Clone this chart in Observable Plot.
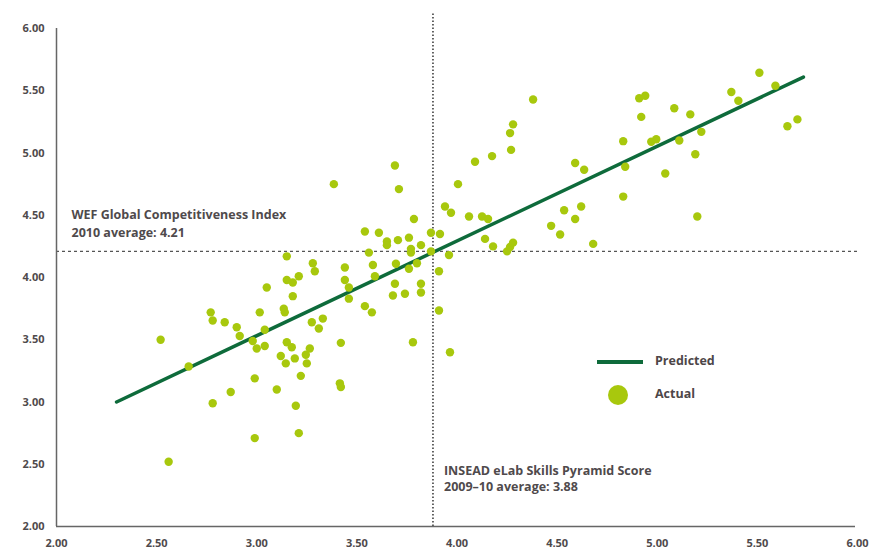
<!DOCTYPE html>
<html>
<head>
<meta charset="utf-8">
<script src="https://cdn.jsdelivr.net/npm/d3@7"></script>
<script src="https://cdn.jsdelivr.net/npm/@observablehq/plot@0.6"></script>
<style>
  html, body { margin: 0; padding: 0; background: #fff; }
  #wrap { position: relative; width: 873px; height: 550px; overflow: hidden; font-family: 'Open Sans', sans-serif; }
  #wrap svg { position: absolute; left: 0; top: 0; }
  .leg-line { position: absolute; left: 597px; top: 360px; width: 46px; height: 3.5px; background: #0e6b3b; }
  .leg-dot { position: absolute; left: 608px; top: 385px; width: 20px; height: 20px; border-radius: 50%; background: #a8c80d; }
  .leg-text { position: absolute; left: 655px; font-size: 12.5px; font-weight: 700; color: #4d4648; line-height: 1; }
</style>
</head>
<body>
<div id="wrap"></div>
<script>
// Data
const actualX = [2.52,2.56,2.66,2.77,2.78,2.78,2.84,2.87,2.90,2.915,2.98,2.99,2.99,3.00,3.015,3.04,3.04,3.05,3.10,3.12,3.135,3.14,3.145,3.15,3.15,3.15,3.175,3.18,3.18,3.19,3.195,3.21,3.21,3.22,3.245,3.25,3.265,3.275,3.28,3.29,3.31,3.33,3.385,3.415,3.42,3.42,3.44,3.44,3.46,3.46,3.54,3.54,3.56,3.575,3.58,3.59,3.61,3.65,3.65,3.68,3.69,3.69,3.695,3.705,3.71,3.74,3.76,3.76,3.77,3.77,3.78,3.785,3.80,3.82,3.82,3.82,3.87,3.87,3.91,3.91,3.915,3.94,3.96,3.965,3.97,4.005,4.06,4.09,4.125,4.14,4.155,4.175,4.18,4.25,4.265,4.265,4.27,4.28,4.28,4.38,4.47,4.515,4.535,4.59,4.59,4.62,4.635,4.68,4.83,4.83,4.84,4.91,4.92,4.94,4.97,4.995,5.04,5.085,5.11,5.165,5.19,5.20,5.22,5.37,5.405,5.51,5.59,5.65,5.70];
const actualY = [3.50,2.52,3.285,3.72,3.655,2.99,3.64,3.08,3.60,3.53,3.49,3.19,2.71,3.43,3.72,3.45,3.58,3.92,3.10,3.37,3.75,3.72,3.31,3.48,4.17,3.98,3.44,3.96,3.85,3.35,2.97,2.75,4.01,3.21,3.38,3.31,3.43,3.64,4.115,4.05,3.59,3.67,4.75,3.15,3.12,3.475,4.08,3.98,3.92,3.83,4.37,3.77,4.20,3.72,4.10,4.01,4.36,4.29,4.26,3.855,4.90,3.95,4.11,4.30,4.71,3.87,4.32,4.07,4.23,4.20,3.48,4.47,4.115,4.26,3.95,3.88,4.36,4.21,3.735,4.05,4.35,4.57,4.18,3.40,4.52,4.75,4.49,4.93,4.49,4.31,4.47,4.975,4.25,4.21,4.245,5.16,5.025,5.23,4.28,5.43,4.415,4.345,4.54,4.92,4.47,4.57,4.865,4.27,5.095,4.65,4.89,5.44,5.29,5.46,5.09,5.11,4.835,5.36,5.10,5.31,4.99,4.49,5.17,5.49,5.42,5.645,5.54,5.215,5.27];
const predictedX = [2.30, 5.73];
const predictedY = [3.00, 5.61];
const wefAverage = 4.21;
const inseadAverage = 3.88;
const xTicks = [2.0, 2.5, 3.0, 3.5, 4.0, 4.5, 5.0, 5.5, 6.0];
const yTicks = [2.0, 2.5, 3.0, 3.5, 4.0, 4.5, 5.0, 5.5, 6.0];
const noteWefLines = ["WEF Global Competitiveness Index", "2010 average: 4.21"];
const noteInseadLines = ["INSEAD eLab Skills Pyramid Score", "2009–10 average: 3.88"];
const legendLabels = ["Predicted", "Actual"];

const actual = actualX.map((x, i) => ({x, y: actualY[i]}));
const predicted = predictedX.map((x, i) => ({x, y: predictedY[i]}));

const textColor = "#4f4a4c";
const chart = Plot.plot({
  width: 873,
  height: 550,
  marginLeft: 56,
  marginRight: 16,
  marginTop: 28,
  marginBottom: 24,
  x: {domain: [2, 6]},
  y: {domain: [2, 6]},
  style: {fontFamily: "'Open Sans', sans-serif", fontSize: "11px", fontWeight: 700, color: textColor, background: "transparent", overflow: "visible"},
  marks: [
    Plot.axisX({ticks: xTicks, tickSize: 0, tickPadding: 13, tickFormat: d3.format(".2f"), label: null}),
    Plot.axisY({ticks: yTicks, tickSize: 0, tickPadding: 12, tickFormat: d3.format(".2f"), label: null}),
    Plot.ruleY([wefAverage], {stroke: "#555", strokeWidth: 1.4, strokeDasharray: "3,3"}),
    Plot.ruleX([inseadAverage], {y1: () => 2, y2: () => 6.13, stroke: "#555", strokeWidth: 1.8, strokeDasharray: "1.4,2.1"}),
    Plot.ruleX([2], {stroke: "#666", strokeWidth: 1.5}),
    Plot.ruleY([2], {x1: () => 2, x2: () => 5.99, stroke: "#666", strokeWidth: 1.5}),
    Plot.line(predicted, {x: "x", y: "y", stroke: "#0e6b3b", strokeWidth: 3.5}),
    Plot.dot(actual, {x: "x", y: "y", r: 4.2, fill: "#a8c80d", stroke: "none"}),
    Plot.text([noteWefLines[0]], {x: () => 2.075, y: () => 4.50, text: d => d, textAnchor: "start", fontSize: 12.5, fontWeight: 700, fill: textColor}),
    Plot.text([noteWefLines[1]], {x: () => 2.075, y: () => 4.36, text: d => d, textAnchor: "start", fontSize: 12.5, fontWeight: 700, fill: textColor}),
    Plot.text([noteInseadLines[0]], {x: () => 3.935, y: () => 2.445, text: d => d, textAnchor: "start", fontSize: 12.5, fontWeight: 700, fill: textColor}),
    Plot.text([noteInseadLines[1]], {x: () => 3.935, y: () => 2.315, text: d => d, textAnchor: "start", fontSize: 12.5, fontWeight: 700, fill: textColor})
  ]
});

const wrap = document.getElementById("wrap");
wrap.appendChild(chart);
const ll = document.createElement("div"); ll.className = "leg-line"; wrap.appendChild(ll);
const ld = document.createElement("div"); ld.className = "leg-dot"; wrap.appendChild(ld);
const t1 = document.createElement("div"); t1.className = "leg-text"; t1.style.top = "355px"; t1.textContent = legendLabels[0]; wrap.appendChild(t1);
const t2 = document.createElement("div"); t2.className = "leg-text"; t2.style.top = "388px"; t2.textContent = legendLabels[1]; wrap.appendChild(t2);
</script>
</body>
</html>
